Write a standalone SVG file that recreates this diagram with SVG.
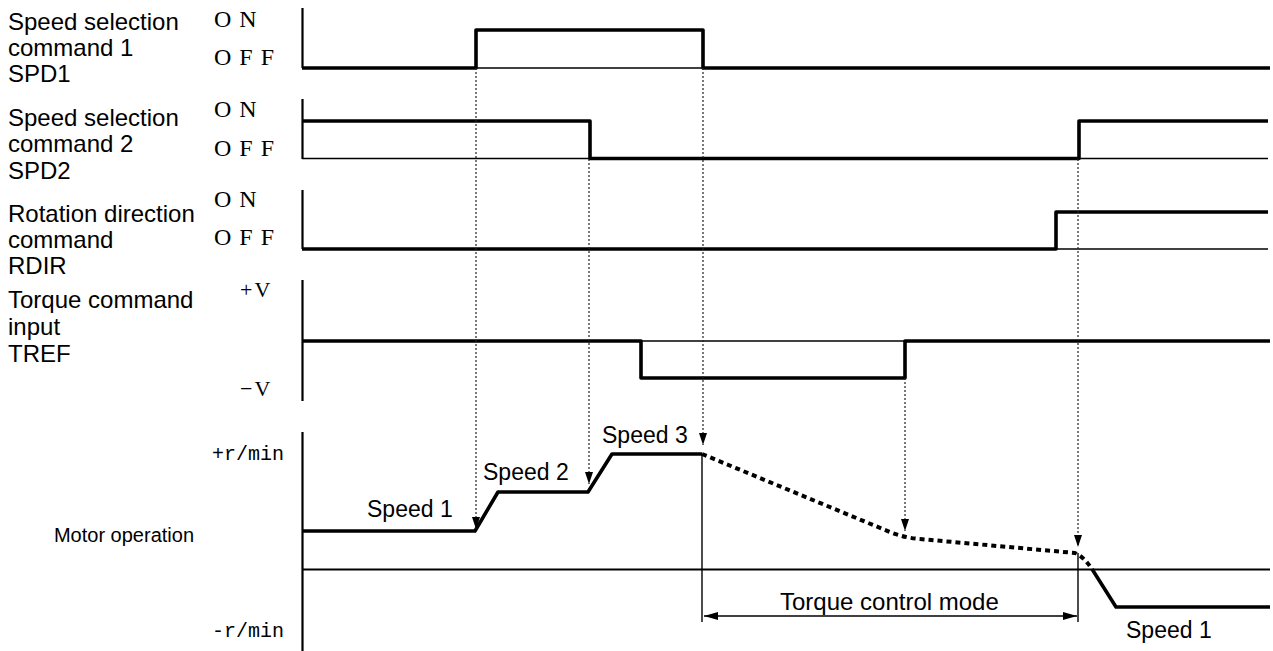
<svg xmlns="http://www.w3.org/2000/svg" width="1273" height="651" viewBox="0 0 1273 651">
<style>
.lbl{font-family:"Liberation Sans",Arial,sans-serif;font-size:24px;fill:#000}
.spd{font-family:"Liberation Sans",Arial,sans-serif;font-size:23px;fill:#000}
.st{font-family:"Liberation Serif","Times New Roman",serif;font-size:24px;fill:#000;letter-spacing:8px}
.pm{font-family:"Liberation Serif","Times New Roman",serif;font-size:22px;fill:#000;letter-spacing:2px}
.rm{font-family:"Liberation Mono","Courier New",monospace;font-size:20px;fill:#000}
.axis{fill:none;stroke:#000;stroke-width:2.2}
.sig{fill:none;stroke:#000;stroke-width:3.6;stroke-linejoin:round}
.thin{fill:none;stroke:#000;stroke-width:1.4}
.dot{fill:none;stroke:#222;stroke-width:1.2;stroke-dasharray:2 2}
.vl{fill:none;stroke:#000;stroke-width:1.4}
.dash{fill:none;stroke:#000;stroke-width:4;stroke-dasharray:5 4}
</style>
<defs>
<marker id="ah" markerUnits="userSpaceOnUse" markerWidth="12" markerHeight="8" refX="12" refY="4" orient="auto">
<path d="M0,0 L12,4 L0,8 z" fill="#000"/>
</marker>
<marker id="ah2" markerUnits="userSpaceOnUse" markerWidth="14" markerHeight="8" refX="14" refY="4" orient="auto-start-reverse">
<path d="M0,0 L14,4 L0,8 z" fill="#000"/>
</marker>
</defs>

<g id="spd1">
<text class="lbl" x="8" y="30">Speed selection</text>
<text class="lbl" x="8" y="56">command 1</text>
<text class="lbl" x="8" y="82">SPD1</text>
<text class="st" x="214" y="27">ON</text>
<text class="st" x="214" y="65">OFF</text>
<path class="axis" d="M302.5,8 V68"/>
<path class="thin" d="M476,68 H703"/>
<path class="sig" d="M302,68 H476 V30 H703 V68 H1270"/>
</g>

<g id="spd2">
<text class="lbl" x="8" y="126">Speed selection</text>
<text class="lbl" x="8" y="152">command 2</text>
<text class="lbl" x="8" y="179">SPD2</text>
<text class="st" x="214" y="117">ON</text>
<text class="st" x="214" y="156">OFF</text>
<path class="axis" d="M302.5,99 V159"/>
<path class="thin" d="M302,158.5 H590 M1078,158.5 H1268"/>
<path class="sig" d="M302,121 H590 V158.5 H1079 V121 H1268"/>
</g>

<g id="rdir">
<text class="lbl" x="8" y="222">Rotation direction</text>
<text class="lbl" x="8" y="248">command</text>
<text class="lbl" x="8" y="274">RDIR</text>
<text class="st" x="214" y="207">ON</text>
<text class="st" x="214" y="245">OFF</text>
<path class="axis" d="M302.5,190 V249"/>
<path class="thin" d="M1056,249 H1268"/>
<path class="sig" d="M302,249 H1056 V212 H1268"/>
</g>

<g id="tref">
<text class="lbl" x="8" y="308">Torque command</text>
<text class="lbl" x="8" y="335">input</text>
<text class="lbl" x="8" y="362">TREF</text>
<text class="pm" x="240" y="297">+V</text>
<text class="pm" x="240" y="396">−V</text>
<path class="axis" d="M302.5,280 V401"/>
<path class="thin" d="M641,341 H905"/>
<path class="sig" d="M302,341 H641 V378 H905 V341 H1270"/>
</g>

<g id="motor">
<text class="lbl" x="194" y="542" text-anchor="end" style="font-size:20px">Motor operation</text>
<text class="rm" x="212" y="460">+r/min</text>
<text class="rm" x="212" y="637">-r/min</text>
<path class="axis" d="M302.5,432 V651"/>
<path class="axis" d="M302,569.5 H1270"/>
<path class="sig" d="M302,531 H475 L498,492 H588 L612,454 H702"/>
<path class="dash" d="M702,454 L890,532 Q905,538 920,539 L1075,553 Q1083,556 1092,569"/>
<path class="sig" d="M1092,569 L1116,607 H1270"/>
<text class="spd" x="367" y="517">Speed 1</text>
<text class="spd" x="483" y="480">Speed 2</text>
<text class="spd" x="602" y="443">Speed 3</text>
<text class="spd" x="1126" y="638">Speed 1</text>
</g>

<g id="torque-mode">
<text class="lbl" x="780" y="610">Torque control mode</text>
</g>

<g id="connectors">
<path class="vl" d="M702,454 V622"/>
<path class="vl" d="M1078,553 V622"/>
<path class="thin" d="M704,616 H1077" marker-start="url(#ah2)" marker-end="url(#ah2)"/>
<path class="dot" d="M476,68 V529" marker-end="url(#ah)"/>
<path class="dot" d="M589,159 V484" marker-end="url(#ah)"/>
<path class="dot" d="M703,68 V445" marker-end="url(#ah)"/>
<path class="dot" d="M905,378 V531" marker-end="url(#ah)"/>
<path class="dot" d="M1078,159 V547" marker-end="url(#ah)"/>
</g>
</svg>
